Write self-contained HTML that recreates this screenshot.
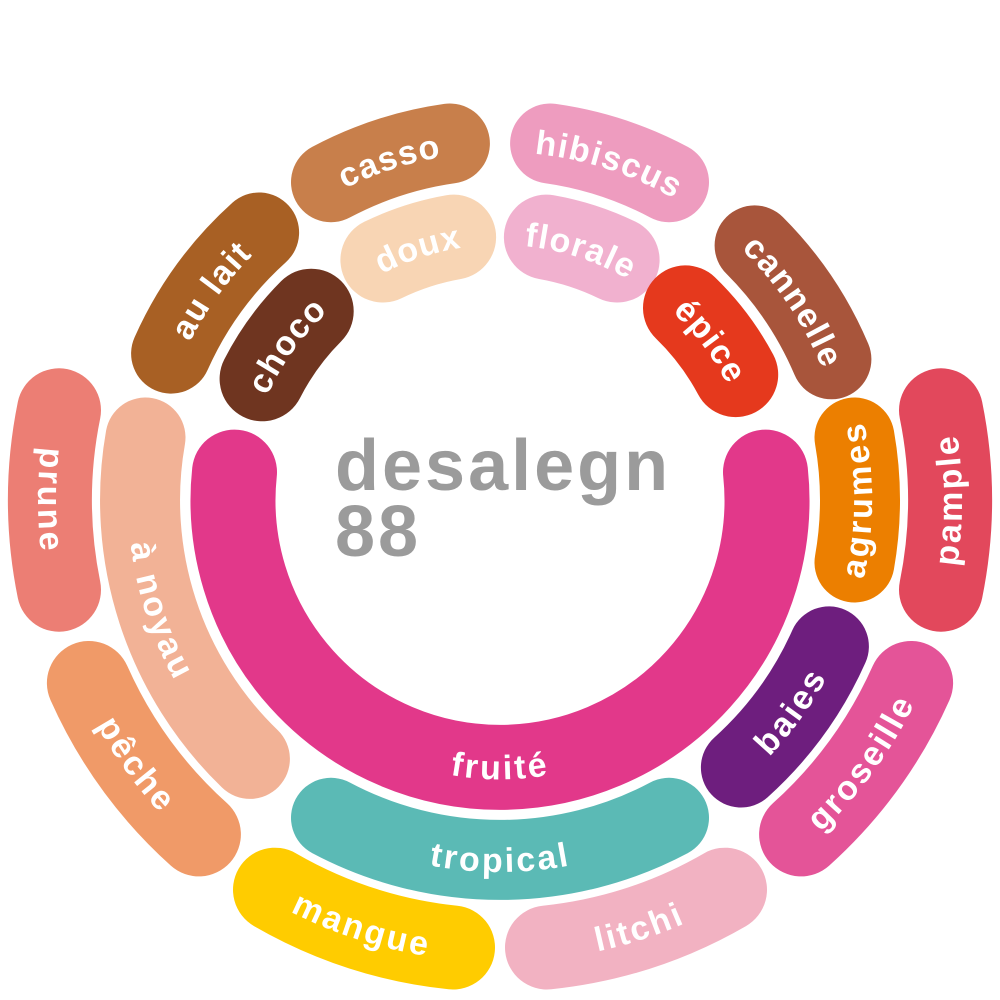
<!DOCTYPE html>
<html><head><meta charset="utf-8"><style>
html,body{margin:0;padding:0;background:#fff;}
svg{display:block;}
.b{fill:none;stroke-linecap:round;}
.t{font-family:"Liberation Sans",sans-serif;font-weight:bold;font-size:34px;fill:#fff;letter-spacing:2px;}
.c{font-family:"Liberation Sans",sans-serif;font-weight:bold;font-size:72px;fill:#9b9b9b;letter-spacing:3px;}
</style></head><body>
<svg width="1000" height="1000" viewBox="0 0 1000 1000" xmlns="http://www.w3.org/2000/svg">
<defs>
<path id="t_fruite" d="M234.5 472.1 A267 267 0 1 0 765.5 472.1"/>
<path id="t_choco" d="M256.1 608.6 A267 267 0 0 1 527.9 234.5"/>
<path id="t_doux" d="M238.8 444.5 A267 267 0 0 1 678.7 301.6"/>
<path id="t_florale" d="M321.3 301.6 A267 267 0 0 1 761.2 444.5"/>
<path id="t_epice" d="M467.5 235 A267 267 0 0 1 745.8 604.3"/>
<path id="t_aulait" d="M171.1 646.4 A360 360 0 0 1 537.6 141.9"/>
<path id="t_casso" d="M147.9 425.2 A360 360 0 0 1 740.9 232.5"/>
<path id="t_hibiscus" d="M259.1 232.5 A360 360 0 0 1 852.1 425.2"/>
<path id="t_cannelle" d="M474.9 140.9 A360 360 0 0 1 823.6 657.8"/>
<path id="t_agrumes" d="M680 811.8 A360 360 0 0 0 680 188.2"/>
<path id="t_baies" d="M462.4 858 A360 360 0 0 0 828.9 353.6"/>
<path id="t_tropical" d="M188.2 680 A360 360 0 0 0 811.8 680"/>
<path id="t_noyau" d="M232.5 259.1 A360 360 0 0 0 425.2 852.1"/>
<path id="t_prune" d="M275 110.3 A450 450 0 0 0 275 889.7"/>
<path id="t_peche" d="M88.9 317 A450 450 0 0 0 547 947.5"/>
<path id="t_mangue" d="M59.9 593.6 A450 450 0 0 0 801.1 834.4"/>
<path id="t_litchi" d="M198.9 834.4 A450 450 0 0 0 940.1 593.6"/>
<path id="t_groseille" d="M453 947.5 A450 450 0 0 0 911.1 317"/>
<path id="t_pample" d="M725 889.7 A450 450 0 0 0 725 110.3"/>
</defs>
<path class="b" stroke="#E2388A" stroke-width="85" d="M765.5 472.1 A267 267 0 1 1 234.5 472.1"/>
<path class="b" stroke="#6F3520" stroke-width="85" d="M262.1 378.8 A267 267 0 0 1 311.2 311.2"/>
<path class="b" stroke="#F8D5B4" stroke-width="85" d="M382.9 260 A267 267 0 0 1 453.6 237.1"/>
<path class="b" stroke="#F1B1CF" stroke-width="85" d="M546.4 237.1 A267 267 0 0 1 617.1 260"/>
<path class="b" stroke="#E5391D" stroke-width="85" d="M685.5 307.9 A267 267 0 0 1 735.7 374.6"/>
<path class="b" stroke="#A86024" stroke-width="80" d="M171.1 353.6 A360 360 0 0 1 259.1 232.5"/>
<path class="b" stroke="#C87F4B" stroke-width="80" d="M331 182.2 A360 360 0 0 1 449.9 143.5"/>
<path class="b" stroke="#EE9CBF" stroke-width="80" d="M550.1 143.5 A360 360 0 0 1 669 182.2"/>
<path class="b" stroke="#A8553B" stroke-width="80" d="M754.6 245.4 A360 360 0 0 1 831.4 359.3"/>
<path class="b" stroke="#EC7F00" stroke-width="80" d="M854.5 437.5 A360 360 0 0 1 854.5 562.5"/>
<path class="b" stroke="#6E1E7E" stroke-width="80" d="M828.9 646.4 A360 360 0 0 1 740.9 767.5"/>
<path class="b" stroke="#5BBAB5" stroke-width="80" d="M669 817.8 A360 360 0 0 1 331 817.8"/>
<path class="b" stroke="#F2B296" stroke-width="80" d="M249.9 758.9 A360 360 0 0 1 145.5 437.5"/>
<path class="b" stroke="#EC7E74" stroke-width="84" d="M59 589.7 A450 450 0 0 1 59 410.3"/>
<path class="b" stroke="#F09A68" stroke-width="84" d="M198.9 834.4 A450 450 0 0 1 88.9 683"/>
<path class="b" stroke="#FFCC00" stroke-width="84" d="M453 947.5 A450 450 0 0 1 275 889.7"/>
<path class="b" stroke="#F2B2C2" stroke-width="84" d="M725 889.7 A450 450 0 0 1 547 947.5"/>
<path class="b" stroke="#E45498" stroke-width="84" d="M911.1 683 A450 450 0 0 1 801.1 834.4"/>
<path class="b" stroke="#E2485C" stroke-width="84" d="M941 410.3 A450 450 0 0 1 941 589.7"/>
<text class="t" dy="12"><textPath href="#t_fruite" startOffset="50%" text-anchor="middle">fruité</textPath></text>
<text class="t" dy="12"><textPath href="#t_choco" startOffset="50%" text-anchor="middle">choco</textPath></text>
<text class="t" dy="12"><textPath href="#t_doux" startOffset="50%" text-anchor="middle">doux</textPath></text>
<text class="t" dy="12"><textPath href="#t_florale" startOffset="50%" text-anchor="middle">florale</textPath></text>
<text class="t" dy="12"><textPath href="#t_epice" startOffset="50%" text-anchor="middle">épice</textPath></text>
<text class="t" dy="12"><textPath href="#t_aulait" startOffset="50%" text-anchor="middle">au lait</textPath></text>
<text class="t" dy="12"><textPath href="#t_casso" startOffset="50%" text-anchor="middle">casso</textPath></text>
<text class="t" dy="12"><textPath href="#t_hibiscus" startOffset="50%" text-anchor="middle">hibiscus</textPath></text>
<text class="t" dy="12"><textPath href="#t_cannelle" startOffset="50%" text-anchor="middle">cannelle</textPath></text>
<text class="t" dy="12"><textPath href="#t_agrumes" startOffset="50%" text-anchor="middle">agrumes</textPath></text>
<text class="t" dy="12"><textPath href="#t_baies" startOffset="50%" text-anchor="middle">baies</textPath></text>
<text class="t" dy="12"><textPath href="#t_tropical" startOffset="50%" text-anchor="middle">tropical</textPath></text>
<text class="t" dy="12"><textPath href="#t_noyau" startOffset="50%" text-anchor="middle">à noyau</textPath></text>
<text class="t" dy="12"><textPath href="#t_prune" startOffset="50%" text-anchor="middle">prune</textPath></text>
<text class="t" dy="12"><textPath href="#t_peche" startOffset="50%" text-anchor="middle">pêche</textPath></text>
<text class="t" dy="12"><textPath href="#t_mangue" startOffset="50%" text-anchor="middle">mangue</textPath></text>
<text class="t" dy="12"><textPath href="#t_litchi" startOffset="50%" text-anchor="middle">litchi</textPath></text>
<text class="t" dy="12"><textPath href="#t_groseille" startOffset="50%" text-anchor="middle">groseille</textPath></text>
<text class="t" dy="12"><textPath href="#t_pample" startOffset="50%" text-anchor="middle">pample</textPath></text>
<text class="c" x="335" y="490">desalegn</text>
<text class="c" x="335" y="556">88</text>
</svg>
</body></html>
